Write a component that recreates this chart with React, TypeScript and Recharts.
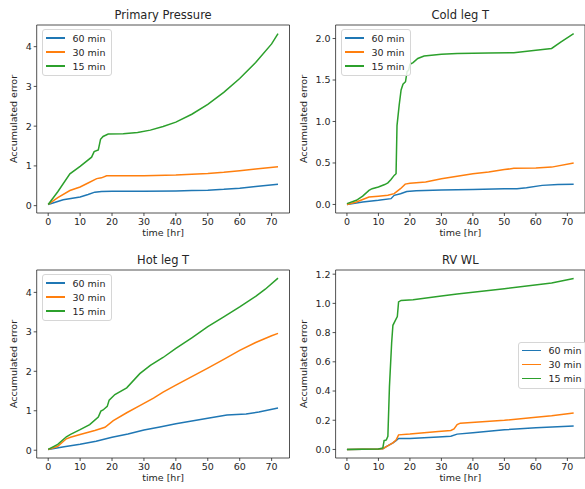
import { LineChart, Line, XAxis, YAxis, Legend, ReferenceArea } from "recharts";

type Pt = [number, number];

const TIME_TICKS = [0, 10, 20, 30, 40, 50, 60, 70];
const TIME_DOMAIN: [number, number] = [-3.6, 75.6];
const SERIES_NAMES = ["60 min", "30 min", "15 min"];
const SERIES_COLORS = ["#1f77b4", "#ff7f0e", "#2ca02c"];

// Primary Pressure
const pressure60: Pt[] = [
  [0, 0.03], [4.7, 0.15], [10, 0.22], [12.5, 0.28], [14.6, 0.34], [16.7, 0.355],
  [20, 0.36], [30, 0.365], [40, 0.37], [45, 0.38], [50, 0.39], [55, 0.41],
  [60, 0.44], [65, 0.48], [72, 0.54],
];
const pressure30: Pt[] = [
  [0, 0.03], [3, 0.2], [6.8, 0.38], [10, 0.47], [12.5, 0.57], [15.2, 0.68],
  [16.7, 0.7], [18.3, 0.75], [25, 0.75], [30, 0.755], [40, 0.77], [50, 0.81],
  [55, 0.84], [60, 0.88], [65, 0.92], [72, 0.98],
];
const pressure15: Pt[] = [
  [0, 0.03], [3, 0.35], [6.8, 0.8], [10, 0.99], [13.6, 1.22], [14.4, 1.36],
  [15.7, 1.4], [16.4, 1.67], [17.2, 1.74], [18.8, 1.8], [23.5, 1.81], [28, 1.84],
  [32, 1.9], [36, 1.99], [40, 2.1], [45, 2.3], [50, 2.55], [55, 2.85],
  [60, 3.2], [65, 3.6], [70, 4.07], [72, 4.33],
];

// Cold leg T
const cold60: Pt[] = [
  [0, 0], [5, 0.03], [10, 0.05], [14, 0.07], [15, 0.11], [17, 0.13], [19, 0.156],
  [22, 0.165], [30, 0.175], [40, 0.18], [50, 0.19], [54, 0.19], [57, 0.2],
  [62, 0.23], [67, 0.24], [72, 0.245],
];
const cold30: Pt[] = [
  [0, 0], [3, 0.03], [5, 0.06], [7, 0.09], [10, 0.1], [13, 0.11], [15, 0.13],
  [17, 0.19], [18.5, 0.245], [20, 0.255], [25, 0.27], [30, 0.31], [35, 0.34],
  [40, 0.37], [45, 0.39], [50, 0.42], [53, 0.435], [60, 0.44], [65, 0.45], [72, 0.5],
];
const cold15: Pt[] = [
  [0, 0.01], [3, 0.05], [5, 0.1], [7, 0.17], [8, 0.19], [10, 0.21], [12, 0.24],
  [13, 0.26], [14, 0.3], [15, 0.35], [15.6, 0.37], [15.9, 0.95], [16.6, 1.2],
  [17.2, 1.38], [17.8, 1.45], [18.6, 1.48], [19.1, 1.6], [19.6, 1.62], [20, 1.69],
  [21, 1.71], [22.5, 1.76], [24.5, 1.79], [30, 1.81], [35, 1.82], [45, 1.825],
  [53, 1.83], [60, 1.86], [65, 1.88], [68, 1.96], [72, 2.06],
];

// Hot leg T
const hot60: Pt[] = [
  [0, 0.02], [5, 0.09], [10, 0.15], [15, 0.23], [20, 0.33], [25, 0.41], [30, 0.51],
  [35, 0.59], [40, 0.67], [45, 0.74], [50, 0.81], [56, 0.89], [62, 0.92],
  [66, 0.97], [72, 1.07],
];
const hot30: Pt[] = [
  [0, 0.02], [3, 0.1], [5.7, 0.29], [7, 0.33], [10, 0.4], [14.6, 0.5], [17.8, 0.58],
  [20.4, 0.75], [24.6, 0.95], [28.7, 1.13], [33, 1.32], [36, 1.47], [40, 1.65],
  [50, 2.08], [55, 2.3], [60, 2.53], [65, 2.73], [70, 2.9], [72, 2.96],
];
const hot15: Pt[] = [
  [0, 0.02], [3, 0.15], [5.7, 0.34], [7, 0.4], [10, 0.52], [13, 0.65], [15.7, 0.84],
  [16.5, 0.99], [17.2, 1.02], [18.5, 1.11], [19.1, 1.27], [20.9, 1.41], [24.6, 1.58],
  [28.7, 1.94], [32, 2.15], [36, 2.35], [40, 2.58], [45, 2.85], [50, 3.13],
  [55, 3.38], [60, 3.63], [65, 3.9], [68, 4.08], [72, 4.36],
];

// RV WL
const rv60: Pt[] = [
  [0, 0], [10, 0.003], [11.4, 0.005], [12.5, 0.02], [14.6, 0.045], [15.6, 0.06],
  [16.4, 0.075], [20, 0.075], [29, 0.085], [33, 0.09], [35, 0.105], [40, 0.115],
  [50, 0.135], [60, 0.148], [72, 0.16],
];
const rv30: Pt[] = [
  [0, 0], [10, 0.003], [11.4, 0.005], [12.5, 0.02], [14.6, 0.045], [15.6, 0.065],
  [16.4, 0.1], [20, 0.105], [29, 0.123], [33, 0.13], [34, 0.14], [35, 0.17],
  [36, 0.18], [50, 0.2], [60, 0.22], [65, 0.23], [72, 0.25],
];
const rv15: Pt[] = [
  [0, 0], [10, 0.003], [11.4, 0.01], [11.8, 0.06], [12.5, 0.065], [13, 0.09],
  [13.5, 0.43], [14.2, 0.73], [14.6, 0.85], [15.3, 0.88], [16, 0.91], [16.4, 1.01],
  [17.2, 1.02], [21, 1.025], [30, 1.05], [35, 1.065], [50, 1.1], [65, 1.14], [72, 1.17],
];

const FONT = "'DejaVu Sans', sans-serif";
const INK = "#262626";

function LegendBox() {
  return (
    <div
      style={{
        border: "1px solid #d6d6d6",
        borderRadius: 3,
        background: "rgba(255,255,255,0.85)",
        padding: "1px 5px 2px 3px",
        fontFamily: FONT,
        fontSize: 9.5,
        color: INK,
        whiteSpace: "nowrap",
      }}
    >
      {SERIES_NAMES.map((n, i) => (
        <div key={n} style={{ display: "flex", alignItems: "center", height: 14 }}>
          <span
            style={{ width: 19, height: 1.5, background: SERIES_COLORS[i], marginRight: 8 }}
          />
          {n}
        </div>
      ))}
    </div>
  );
}

interface PanelProps {
  title: string;
  x: number;
  y: number;
  width: number;
  yAxisWidth: number;
  rightPad: number;
  series: Pt[][];
  yDomain: [number, number];
  yTicks: number[];
  digits: number;
  legendAt: { left: number; top: number };
  labelOffset: number;
}

function Panel(p: PanelProps) {
  const height = 244;
  const plotLeft = p.yAxisWidth;
  const plotWidth = p.width - p.yAxisWidth - p.rightPad;
  const text = { fontFamily: FONT, fontSize: 9.5, fill: INK };

  return (
    <div style={{ position: "absolute", left: p.x, top: p.y, width: p.width, height }}>
      <div
        style={{
          position: "absolute",
          left: plotLeft,
          width: plotWidth,
          top: 8,
          lineHeight: "14px",
          textAlign: "center",
          fontFamily: FONT,
          fontSize: 11.5,
          color: INK,
        }}
      >
        {p.title}
      </div>
      <LineChart
        width={p.width}
        height={height}
        margin={{ top: 25, right: p.rightPad, bottom: 0, left: 0 }}
      >
        <ReferenceArea
          x1={TIME_DOMAIN[0]}
          x2={TIME_DOMAIN[1]}
          y1={p.yDomain[0]}
          y2={p.yDomain[1]}
          fill="none"
          stroke={INK}
          strokeWidth={0.8}
        />
        <XAxis
          dataKey="t"
          type="number"
          domain={TIME_DOMAIN}
          ticks={TIME_TICKS}
          allowDataOverflow
          height={31}
          axisLine={false}
          tickLine={{ stroke: INK, strokeWidth: 0.8 }}
          tickSize={3}
          tickMargin={2}
          tick={text}
          label={{
            value: "time [hr]",
            position: "insideBottom",
            offset: 8,
            style: { ...text, textAnchor: "middle" },
          }}
        />
        <YAxis
          type="number"
          domain={p.yDomain}
          ticks={p.yTicks}
          allowDataOverflow
          width={p.yAxisWidth}
          axisLine={false}
          tickLine={{ stroke: INK, strokeWidth: 0.8 }}
          tickSize={3}
          tickMargin={2}
          tick={text}
          tickFormatter={(v: number) => v.toFixed(p.digits)}
          label={{
            value: "Accumulated error",
            angle: -90,
            position: "insideLeft",
            offset: p.labelOffset,
            style: { ...text, textAnchor: "middle" },
          }}
        />
        <Legend
          layout="vertical"
          align="center"
          verticalAlign="middle"
          wrapperStyle={{ left: p.legendAt.left, top: p.legendAt.top, width: "auto" }}
          content={() => <LegendBox />}
        />
        {p.series.map((s, i) => (
          <Line
            key={SERIES_NAMES[i]}
            name={SERIES_NAMES[i]}
            data={s.map(([t, v]) => ({ t, v }))}
            dataKey="v"
            type="linear"
            stroke={SERIES_COLORS[i]}
            strokeWidth={1.5}
            dot={false}
            activeDot={false}
            isAnimationActive={false}
          />
        ))}
      </LineChart>
    </div>
  );
}

export default function App() {
  return (
    <div
      style={{
        position: "absolute",
        left: 0,
        top: 0,
        width: 585,
        height: 489,
        overflow: "hidden",
        background: "#fff",
      }}
    >
      <Panel
        title="Primary Pressure"
        x={0}
        y={0}
        width={292}
        yAxisWidth={36.7}
        rightPad={2.5}
        series={[pressure60, pressure30, pressure15]}
        yDomain={[-0.185, 4.545]}
        yTicks={[0, 1, 2, 3, 4]}
        digits={0}
        legendAt={{ left: 41.5, top: 29 }}
        labelOffset={14}
      />
      <Panel
        title="Cold leg T"
        x={292}
        y={0}
        width={293}
        yAxisWidth={43.6}
        rightPad={0}
        series={[cold60, cold30, cold15]}
        yDomain={[-0.103, 2.163]}
        yTicks={[0, 0.5, 1, 1.5, 2]}
        digits={1}
        legendAt={{ left: 48.5, top: 29 }}
        labelOffset={12}
      />
      <Panel
        title="Hot leg T"
        x={0}
        y={245}
        width={292}
        yAxisWidth={36.7}
        rightPad={2.5}
        series={[hot60, hot30, hot15]}
        yDomain={[-0.197, 4.567]}
        yTicks={[0, 1, 2, 3, 4]}
        digits={0}
        legendAt={{ left: 41.5, top: 29 }}
        labelOffset={14}
      />
      <Panel
        title="RV WL"
        x={292}
        y={245}
        width={293}
        yAxisWidth={43.6}
        rightPad={0}
        series={[rv60, rv30, rv15]}
        yDomain={[-0.0585, 1.2285]}
        yTicks={[0, 0.2, 0.4, 0.6, 0.8, 1, 1.2]}
        digits={1}
        legendAt={{ left: 225.5, top: 96.5 }}
        labelOffset={12}
      />
    </div>
  );
}
